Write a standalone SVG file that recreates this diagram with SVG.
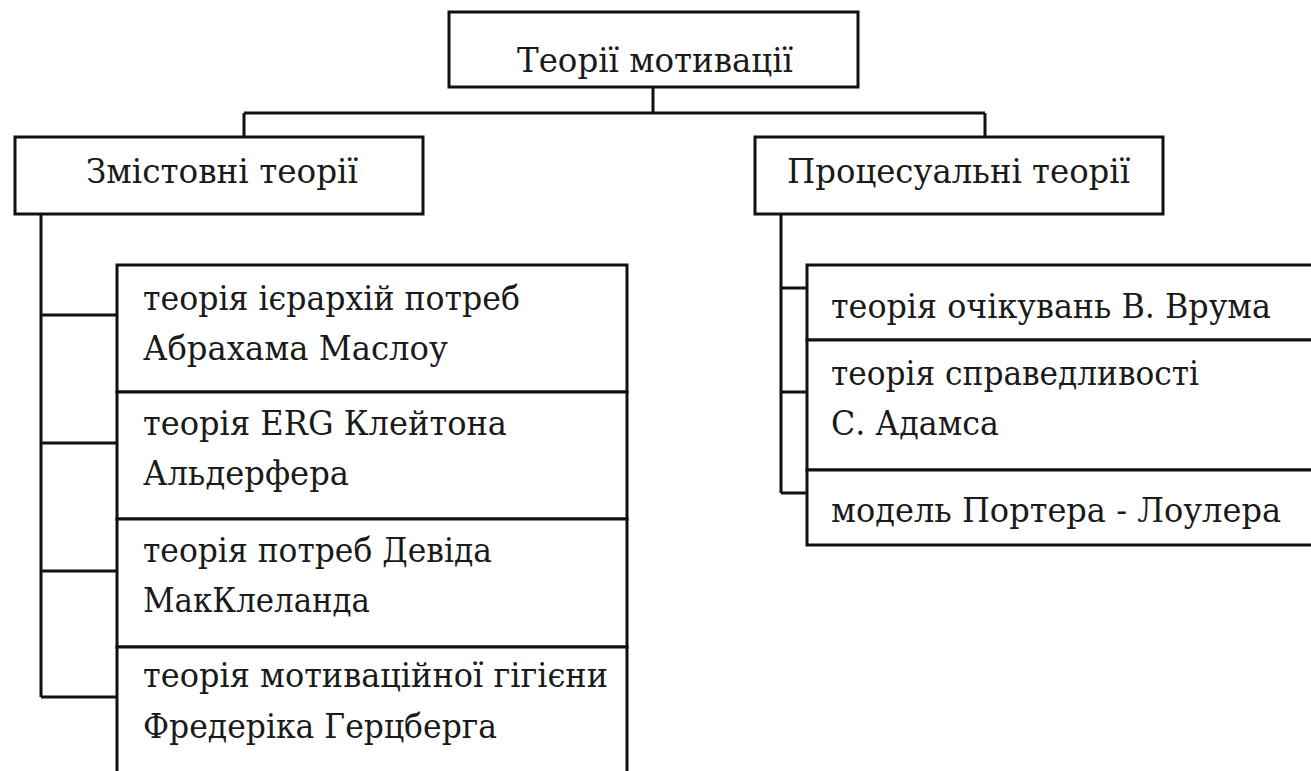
<svg xmlns="http://www.w3.org/2000/svg" width="1311" height="771" viewBox="0 0 1311 771">
<style>
.box{fill:#fff;stroke:#111;stroke-width:3}
.ln{fill:none;stroke:#111;stroke-width:3}
.t{font-family:"DejaVu Serif","Liberation Serif",serif;font-size:33px;fill:#1a1a1a}
</style>
<rect width="1311" height="771" fill="#fff"/>
<g id="connectors">
<path class="ln" d="M653,87 V113 M244,113 H985 M244,113 V137 M985,113 V137"/>
<path class="ln" d="M41,214 V697 M41,315 H117 M41,443 H117 M41,571 H117 M41,697 H117"/>
<path class="ln" d="M781,214 V493 M781,288 H807 M781,392 H807 M781,493 H807"/>
</g>
<g id="root">
<rect class="box" x="449" y="12" width="409" height="75"/>
<text class="t" x="517" y="72" textLength="276" lengthAdjust="spacingAndGlyphs">Теорії мотивації</text>
</g>
<g id="content">
<rect class="box" x="15" y="137" width="408" height="77"/>
<text class="t" x="86" y="183" textLength="272" lengthAdjust="spacingAndGlyphs">Змістовні теорії</text>
</g>
<g id="process">
<rect class="box" x="755" y="137" width="408" height="77"/>
<text class="t" x="787" y="183" textLength="343" lengthAdjust="spacingAndGlyphs">Процесуальні теорії</text>
</g>
<g id="maslow">
<rect class="box" x="117" y="265" width="510" height="127"/>
<text class="t" x="143" y="310" textLength="377" lengthAdjust="spacingAndGlyphs">теорія ієрархій потреб</text>
<text class="t" x="143" y="360" textLength="305" lengthAdjust="spacingAndGlyphs">Абрахама Маслоу</text>
</g>
<g id="erg">
<rect class="box" x="117" y="392" width="510" height="127"/>
<text class="t" x="143" y="435" textLength="364" lengthAdjust="spacingAndGlyphs">теорія ERG Клейтона</text>
<text class="t" x="143" y="485" textLength="206" lengthAdjust="spacingAndGlyphs">Альдерфера</text>
</g>
<g id="mcclelland">
<rect class="box" x="117" y="519" width="510" height="128"/>
<text class="t" x="143" y="562" textLength="349" lengthAdjust="spacingAndGlyphs">теорія потреб Девіда</text>
<text class="t" x="143" y="612" textLength="227" lengthAdjust="spacingAndGlyphs">МакКлеланда</text>
</g>
<g id="herzberg">
<rect class="box" x="117" y="647" width="510" height="130"/>
<text class="t" x="143" y="687" textLength="465" lengthAdjust="spacingAndGlyphs">теорія мотиваційної гігієни</text>
<text class="t" x="143" y="738" textLength="354" lengthAdjust="spacingAndGlyphs">Фредеріка Герцберга</text>
</g>
<g id="vroom">
<rect class="box" x="807" y="265" width="520" height="75"/>
<text class="t" x="831" y="318" textLength="440" lengthAdjust="spacingAndGlyphs">теорія очікувань В. Врума</text>
</g>
<g id="adams">
<rect class="box" x="807" y="340" width="520" height="130"/>
<text class="t" x="831" y="385" textLength="368" lengthAdjust="spacingAndGlyphs">теорія справедливості</text>
<text class="t" x="831" y="435" textLength="168" lengthAdjust="spacingAndGlyphs">С. Адамса</text>
</g>
<g id="porter">
<rect class="box" x="807" y="470" width="520" height="75"/>
<text class="t" x="831" y="522" textLength="450" lengthAdjust="spacingAndGlyphs">модель Портера - Лоулера</text>
</g>
</svg>
